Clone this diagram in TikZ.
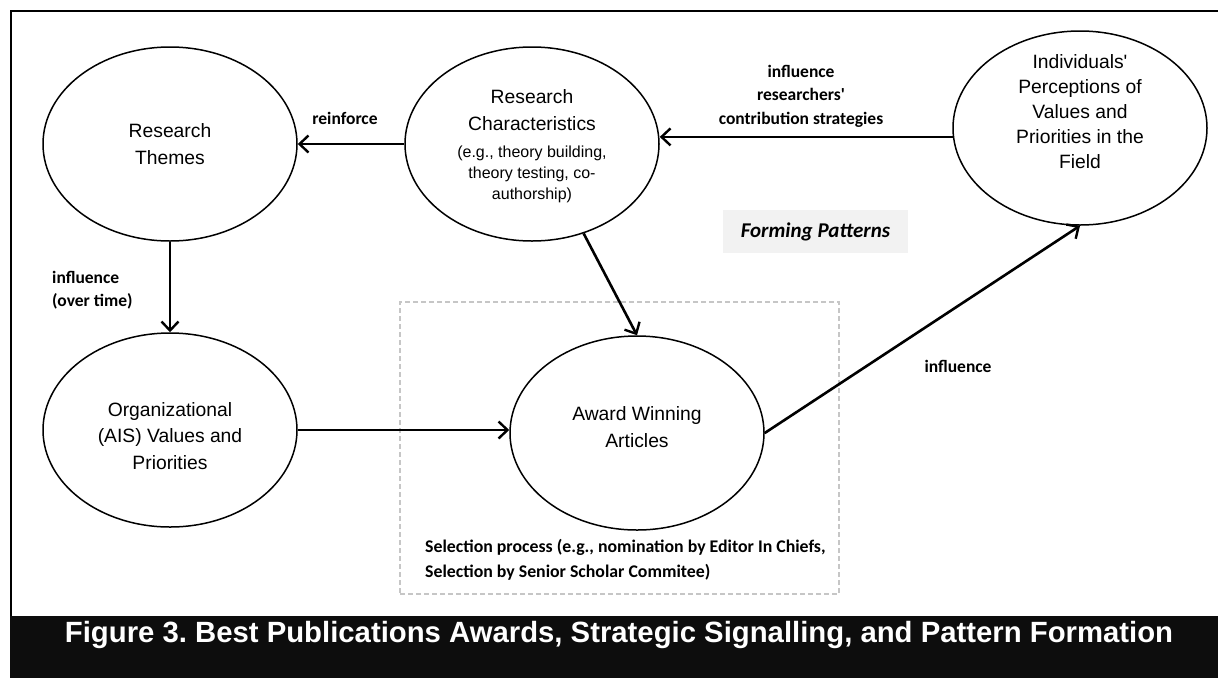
\documentclass[tikz,border=0pt]{standalone}
\usepackage{fontspec}
\setmainfont{Liberation Sans}
\newfontfamily\labelfont{Carlito}
\usetikzlibrary{arrows.meta,shapes.geometric}
\definecolor{barblack}{HTML}{0D0D0D}
\definecolor{dashgray}{HTML}{C6C6C6}
\definecolor{tagfill}{HTML}{F2F2F2}
% smaller type for the examples inside an oval
\newcommand{\exampletext}{\fontsize{16}{21}\selectfont}
\frenchspacing
\begin{document}
\begin{tikzpicture}[x=1pt,y=-1pt,
  oval/.style={draw, ellipse, line width=1.5pt, minimum width=254pt, minimum height=194pt,
    inner sep=0pt, align=center, font=\fontsize{19.3}{26.5}\selectfont},
  ovaltext/.style={align=center, inner sep=0pt, font=\fontsize{19.3}{25}\selectfont},
  flow/.style={line width=2.6pt, -{Straight Barb[length=9pt,width=17pt,line width=2.4pt]}},
  lab/.style={font=\labelfont\bfseries\fontsize{17.5}{23.5}\selectfont, align=center, inner sep=0pt},
  selbox/.style={draw=dashgray, line width=1.5pt, dash pattern=on 5pt off 3pt, inner sep=0pt},
]
\useasboundingbox (0,0) rectangle (1218,678);
\fill[white] (0,0) rectangle (1218,678);

% outer frame and caption bar
\draw[line width=2pt] (11,616) -- (11,11) -- (1218,11);
\fill[barblack] (10,616) rectangle (1218,678);
\node[text=white, font=\bfseries\fontsize{29.3}{34}\selectfont, inner sep=0pt] (CAP) at (619,635)
  {Figure 3. Best Publications Awards, Strategic Signalling, and Pattern Formation};

% selection process frame
\node[selbox, minimum width=439pt, minimum height=292pt] (SEL) at (619.5,448) {};
\node[lab, align=left, anchor=west, font=\labelfont\bfseries\fontsize{17.8}{25}\selectfont] (SELtxt) at (425,560)
  {Selection process (e.g., nomination by Editor In Chiefs,\\Selection by Senior Scholar Commitee)};

% concepts
\node[oval] (RT) at (170,144) {Research\\Themes};
\node[oval] (RC) at (532,144) {};
\node[ovaltext, font=\fontsize{19.3}{27}\selectfont] (RCtext) at (532,146)
  {Research\\Characteristics\\
   \exampletext (e.g., theory building,\\[-6pt]\exampletext theory testing, co-\\[-6pt]\exampletext authorship)};
\node[oval] (IN) at (1080,128) {};
\node[ovaltext] (INtext) at (1080,112) {Individuals\textquotesingle\\Perceptions of\\Values and\\Priorities in the\\Field};
\node[oval] (OR) at (170,430) {};
\node[ovaltext, font=\fontsize{19.3}{26.5}\selectfont] (ORtext) at (170,436) {Organizational\\(AIS) Values and\\Priorities};
\node[oval] (AW) at (637,433) {};
\node[ovaltext, font=\fontsize{19.3}{26.5}\selectfont] (AWtext) at (637,427) {Award Winning\\Articles};

% pattern tag
\node[fill=tagfill, font=\labelfont\bfseries\itshape\fontsize{21}{24}\selectfont,
  minimum width=185pt, minimum height=43pt, inner sep=0pt] (FP) at (815.5,231.5) {Forming Patterns};

% connectors
\draw[flow] (RC.west) -- (RT.east);
\draw[flow] (IN.184) -- (RC.east |- IN.184);
\draw[flow] (RT.south) -- (OR.north);
\draw[flow] (OR.east) -- (AW.west |- OR.east);
\draw[flow] (RC.-60) -- (AW.north);
\draw[flow] (AW.east) -- (IN.south);

% connector labels
\node[lab] (Lreinf) at (345,118) {reinforce};
\node[lab] (Lcontrib) at (801,96) {influence\\researchers\textquotesingle\\contribution strategies};
\node[lab, align=left, anchor=west] (Ltime) at (52,290) {influence\\(over time)};
\node[lab] (Linf) at (958,366) {influence};
\end{tikzpicture}
\end{document}
